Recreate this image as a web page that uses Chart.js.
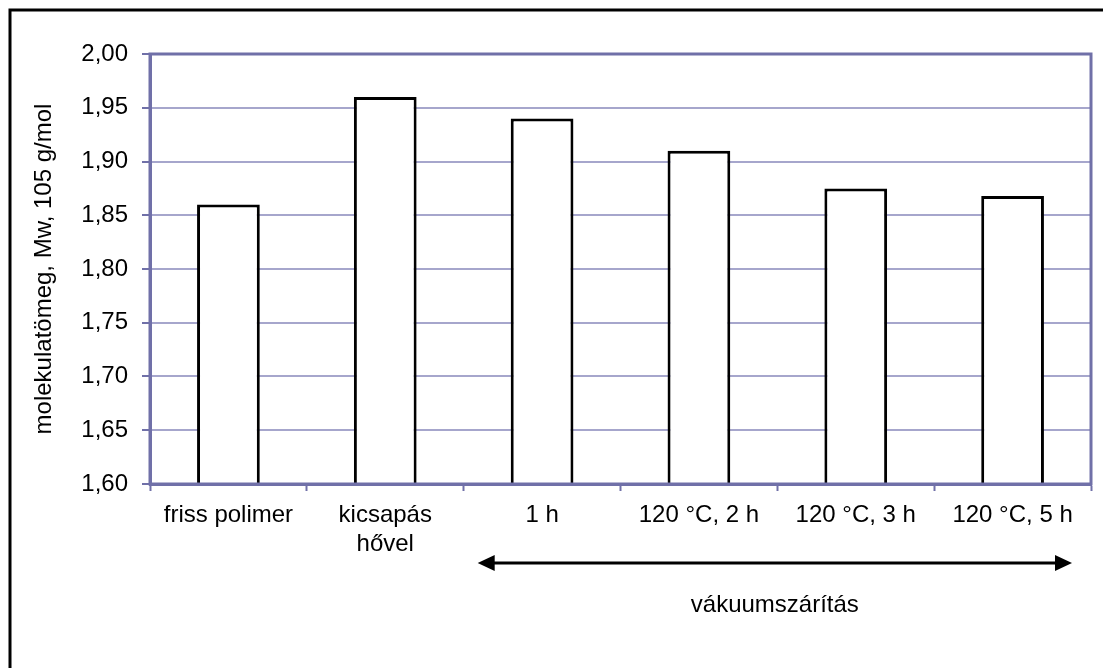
<!DOCTYPE html>
<html>
<head>
<meta charset="utf-8">
<script src="https://cdn.jsdelivr.net/npm/chart.js@4"></script>
<style>
  html, body { margin: 0; padding: 0; background: #fff; }
  #wrap { width: 1103px; height: 668px; position: relative; }
</style>
</head>
<body>
<div id="wrap"><canvas id="chartId" width="1103" height="668"></canvas></div>
<script>
// Molekulatömeg oszlopdiagram

const categories = [['friss polimer'], ['kicsapás', 'hővel'], '1 h', '120 °C, 2 h', '120 °C, 3 h', '120 °C, 5 h'];
const molWeights = [1.86, 1.96, 1.94, 1.91, 1.875, 1.868];

const Y_MIN = 1.60;
const Y_MAX = 2.00;
const Y_STEP = 0.05;

const yTitle = 'molekulatömeg, Mw, 105 g/mol';
const groupLabel = 'vákuumszárítás';
const groupFrom = 2;   // first category under the arrow
const groupTo = 5;     // last category under the arrow

const AXIS_COLOR = '#7070a8';
const GRID_COLOR = '#a6a6cc';
const FONT = 'Liberation Sans, Arial, sans-serif';

// keret, tengelycím, nyíl
const extras = {
  id: 'extras',
  beforeDraw(chart) {
    const ctx = chart.ctx;
    ctx.save();
    ctx.fillStyle = '#fff';
    ctx.fillRect(0, 0, chart.width, chart.height);
    ctx.strokeStyle = '#000';
    ctx.lineWidth = 3;
    ctx.beginPath();
    ctx.moveTo(10, chart.height);
    ctx.lineTo(10, 10);
    ctx.lineTo(chart.width, 10);
    ctx.stroke();
    ctx.restore();
  },
  afterDatasetsDraw(chart) {
    const ctx = chart.ctx;
    const a = chart.chartArea;
    const x = chart.scales.x;
    ctx.save();
    // plot area border
    ctx.strokeStyle = AXIS_COLOR;
    ctx.lineWidth = 3;
    ctx.strokeRect(a.left, a.top, a.right - a.left, a.bottom - a.top);

    // y title
    ctx.fillStyle = '#000';
    ctx.font = '24px ' + FONT;
    ctx.textAlign = 'center';
    ctx.textBaseline = 'middle';
    ctx.translate(44, (a.top + a.bottom) / 2);
    ctx.rotate(-Math.PI / 2);
    ctx.fillText(yTitle, 0, 0);
    ctx.restore();

    // double arrow
    const half = (x.getPixelForValue(1) - x.getPixelForValue(0)) / 2;
    const x1 = x.getPixelForValue(groupFrom) - half + 14;
    const x2 = x.getPixelForValue(groupTo) + half - 19;
    const ay = a.bottom + 79;
    ctx.save();
    ctx.strokeStyle = '#000';
    ctx.fillStyle = '#000';
    ctx.lineWidth = 3;
    ctx.beginPath();
    ctx.moveTo(x1 + 10, ay);
    ctx.lineTo(x2 - 10, ay);
    ctx.stroke();
    ctx.beginPath();
    ctx.moveTo(x1, ay);
    ctx.lineTo(x1 + 17, ay - 8);
    ctx.lineTo(x1 + 17, ay + 8);
    ctx.closePath();
    ctx.fill();
    ctx.beginPath();
    ctx.moveTo(x2, ay);
    ctx.lineTo(x2 - 17, ay - 8);
    ctx.lineTo(x2 - 17, ay + 8);
    ctx.closePath();
    ctx.fill();

    ctx.font = '24px ' + FONT;
    ctx.textAlign = 'center';
    ctx.textBaseline = 'middle';
    ctx.fillText(groupLabel, (x1 + x2) / 2, a.bottom + 121);
    ctx.restore();
  }
};

var chrt = document.getElementById('chartId').getContext('2d');
var chartId = new Chart(chrt, {
  type: 'bar',
  data: {
    labels: categories,
    datasets: [{
      label: 'Mw',
      data: molWeights,
      backgroundColor: '#ffffff',
      borderColor: '#000000',
      borderWidth: 3,
      barPercentage: 0.4,
      categoryPercentage: 1.0
    }]
  },
  options: {
    responsive: false,
    animation: false,
    layout: { padding: { top: 54, right: 12, left: 0, bottom: 0 } },
    plugins: {
      legend: { display: false },
      tooltip: { enabled: false }
    },
    scales: {
      x: {
        afterFit: s => { s.height = 184; },
        grid: {
          offset: true,
          drawOnChartArea: false,
          drawTicks: true,
          tickLength: 7,
          tickWidth: 2,
          tickColor: AXIS_COLOR
        },
        border: { color: AXIS_COLOR, width: 3 },
        ticks: {
          color: '#000',
          padding: 10,
          maxRotation: 0,
          autoSkip: false,
          font: { family: FONT, size: 24, lineHeight: 1.2 }
        }
      },
      y: {
        min: Y_MIN,
        max: Y_MAX,
        afterFit: s => { s.width = 150; },
        grid: {
          color: GRID_COLOR,
          lineWidth: 2,
          tickLength: 8,
          tickColor: AXIS_COLOR,
          tickWidth: 2
        },
        border: { color: AXIS_COLOR, width: 3 },
        ticks: {
          stepSize: Y_STEP,
          color: '#000',
          padding: 14,
          font: { family: FONT, size: 24 },
          callback: v => v.toFixed(2).replace('.', ',')
        }
      }
    }
  },
  plugins: [extras]
});
</script>
</body>
</html>
